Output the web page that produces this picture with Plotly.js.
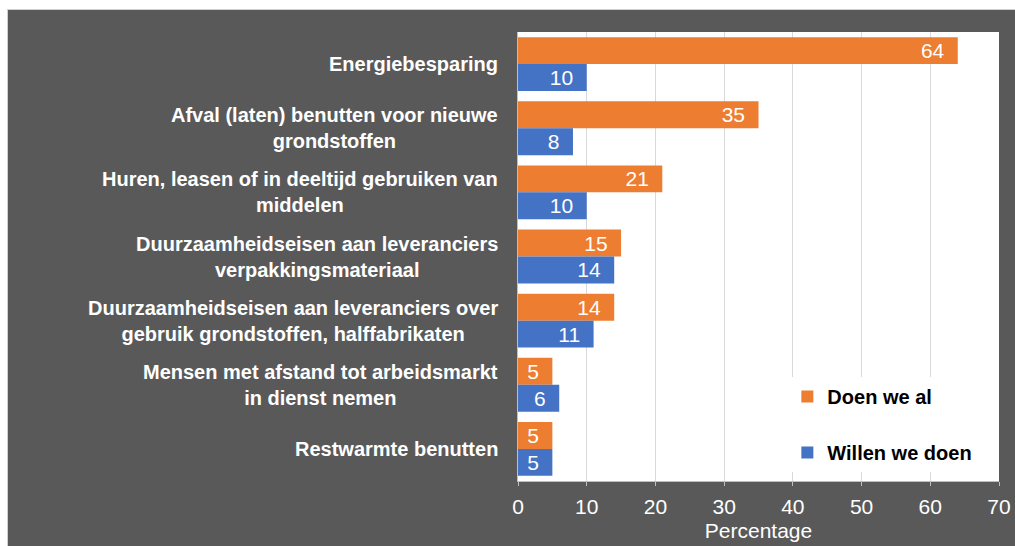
<!DOCTYPE html>
<html lang="nl">
<head>
    <meta charset="UTF-8">
    <title>Circulaire maatregelen</title>
    <script src="https://cdn.plot.ly/plotly-3.0.1.min.js"></script>
    <style>
        body {
            margin: 0;
            background: white;
        }

        #chart {
            position: absolute;
            left: 7px;
            top: 9px;
            width: 1008px;
            height: 537px;
            border-top: 1px solid #d0d0d0;
            border-left: 1px solid #d0d0d0;
            box-sizing: border-box;
        }
    </style>
</head>
<body>
    <div id="chart"></div>

    <script>
        // categories, top to bottom
        const categories = [
            'Energiebesparing',
            'Afval (laten) benutten voor nieuwe<br>grondstoffen',
            'Huren, leasen of in deeltijd gebruiken van<br>middelen',
            'Duurzaamheidseisen aan leveranciers<br>verpakkingsmateriaal',
            'Duurzaamheidseisen aan leveranciers over<br>gebruik grondstoffen, halffabrikaten',
            'Mensen met afstand tot arbeidsmarkt<br>in dienst nemen',
            'Restwarmte benutten'
        ];

        const doenWeAl = [64, 35, 21, 15, 14, 5, 5];
        const willenWeDoen = [10, 8, 10, 14, 11, 6, 5];

        const seriesNames = ['Doen we al', 'Willen we doen'];
        const xTicks = [0, 10, 20, 30, 40, 50, 60, 70];

        const fontFamily = '"Liberation Sans", Arial, sans-serif';

        function barTrace(name, values, color) {
            return {
                type: 'bar',
                orientation: 'h',
                name: name,
                legendgroup: name,
                y: categories,
                x: values,
                marker: { color: color },
                text: values.map(v => String(v)),
                texttemplate: '%{text}\u2002',
                textposition: 'inside',
                insidetextanchor: 'end',
                textangle: 0,
                constraintext: 'none',
                textfont: { family: fontFamily, size: 21, color: 'white' },
                hoverinfo: 'x+name'
            };
        }

        const traces = [
            barTrace(seriesNames[0], doenWeAl, '#ED7D31'),
            barTrace(seriesNames[1], willenWeDoen, '#4472C4')
        ];

        // category labels, centred like the original
        const labelNotes = categories.map(c => ({
            xref: 'paper',
            yref: 'y',
            x: 0,
            y: c,
            xanchor: 'right',
            xshift: -18,
            align: 'center',
            showarrow: false,
            text: c,
            font: { family: fontFamily, size: 20, color: 'white', weight: 'bold' }
        }));

        const layout = {
            width: 1008,
            height: 537,
            margin: { l: 510, r: 17, t: 22, b: 66 },
            paper_bgcolor: '#595959',
            plot_bgcolor: 'white',
            font: { family: fontFamily, size: 21, color: 'white' },
            barmode: 'group',
            bargap: 0.16,
            bargroupgap: 0,
            xaxis: {
                range: [0, 70],
                tickvals: xTicks,
                showgrid: true,
                gridcolor: '#d9d9d9',
                zeroline: false,
                showline: true,
                linecolor: '#bfbfbf',
                ticks: 'outside',
                ticklen: 4,
                tickcolor: '#bfbfbf',
                ticklabelstandoff: 3,
                tickfont: { size: 21, color: 'white' },
                title: { text: 'Percentage', font: { size: 21, color: 'white' }, standoff: 6 },
                fixedrange: true
            },
            yaxis: {
                autorange: 'reversed',
                showticklabels: false,
                showgrid: false,
                showline: true,
                linecolor: '#bfbfbf',
                ticks: '',
                fixedrange: true
            },
            annotations: labelNotes,
            showlegend: true,
            legend: {
                x: 0.955,
                y: 0.02,
                xanchor: 'right',
                yanchor: 'bottom',
                bgcolor: 'white',
                tracegroupgap: 27,
                traceorder: 'grouped',
                font: { family: fontFamily, size: 20, color: 'black', weight: 'bold' }
            }
        };

        Plotly.newPlot('chart', traces, layout, { displayModeBar: false, staticPlot: true });
    </script>
</body>
</html>
